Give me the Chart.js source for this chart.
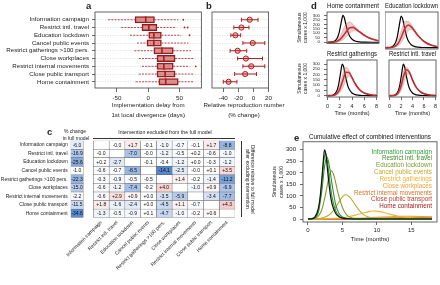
<!DOCTYPE html>
<html lang="en">
<head>
<meta charset="UTF-8">
<title>Intervention effects</title>
<script src="https://cdn.jsdelivr.net/npm/chart.js"></script>
<style>
  html, body { margin: 0; padding: 0; background: #fff; }
  #fig { position: relative; width: 440px; height: 285px; overflow: hidden; font-family: 'Liberation Sans', Arial, sans-serif; color: #222; }
  #fig canvas { position: absolute; }
  .lbl { position: absolute; font-weight: bold; font-size: 9.5px; line-height: 1; }
  .txt { position: absolute; font-size: 5px; line-height: 1; white-space: nowrap; text-align: center; }
</style>
</head>
<body>
<div id="fig">
  <canvas id="chartA" width="207" height="120" style="left:0;top:0"></canvas>
  <canvas id="chartB" width="68" height="120" style="left:207px;top:0"></canvas>
  <canvas id="chartC" width="240" height="157" style="left:0;top:128px"></canvas>
  <canvas id="chartD1" width="89" height="50" style="left:292px;top:0"></canvas>
  <canvas id="chartD2" width="55" height="50" style="left:385px;top:0"></canvas>
  <canvas id="chartD3" width="89" height="69" style="left:292px;top:48px"></canvas>
  <canvas id="chartD4" width="55" height="69" style="left:385px;top:48px"></canvas>
  <canvas id="chartE" width="170" height="115" style="left:270px;top:128px"></canvas>

  <div class="lbl" style="left:86px;top:1px">a</div>
  <div class="lbl" style="left:206px;top:1px">b</div>
  <div class="lbl" style="left:47px;top:127px">c</div>
  <div class="lbl" style="left:311px;top:1px">d</div>
  <div class="lbl" style="left:294px;top:133px">e</div>

  <div class="txt" style="left:194px;top:102.3px;width:100px;font-size:6.2px">Relative reproduction number</div>
  <div class="txt" style="left:194px;top:112px;width:100px;font-size:6.2px">(% change)</div>

  <div class="txt" style="left:55px;top:129px;width:40px">% change</div>
  <div class="txt" style="left:51px;top:135.5px;width:50px">in full model</div>
  <div class="txt" style="left:105px;top:129.5px;width:120px;font-size:5.2px">Intervention excluded from the full model</div>
  <div style="position:absolute;left:93px;top:138px;width:142px;border-top:0.8px solid #333"></div>
  <div class="txt" style="left:241px;top:141px;height:76px;writing-mode:vertical-rl;border-left:0.8px solid #333;padding-left:2px;line-height:5.5px;white-space:normal">Difference relative to full model<br>after excluding intervention</div>
</div>

<script>
Chart.defaults.font.family = "'Liberation Sans', Arial, sans-serif"
Chart.defaults.color = '#222'
Chart.defaults.animation = false
Chart.defaults.responsive = false
Chart.defaults.devicePixelRatio = 1
Chart.defaults.plugins.legend.display = false
Chart.defaults.plugins.tooltip.enabled = false

const interventions = ['Information campaign', 'Restrict intl. travel', 'Education lockdown', 'Cancel public events',
  'Restrict gatherings >100 pers.', 'Close workplaces', 'Restrict internal movements', 'Close public transport', 'Home containment']

// a: implementation delay from 1st local divergence (days)
const delayLo = [-64, -43, -29, -18, -22, -15, -10, -15, -20]
const delayQ1 = [-21, -10, 0, -2, 9, 14, 14, 14, 17]
const delayMed = [-4, 1, 9, 9, 22, 25, 25, 27, 28]
const delayQ3 = [10, 14, 21, 21, 40, 43, 40, 43, 48]
const delayHi = [48, 45, 53, 64, 68, 74, 66, 74, 73]
const outRow = [0, 1, 1, 2, 6]
const outVal = [56, 58, 63, 66, 76]

// b: relative reproduction number (% change)
const rEst = [-5, -16, -24, -1, -21, -10, -3, -11, -33]
const rLo = [-16, -26, -30, -14, -31, -21, -14, -25, -40]
const rHi = [6, -6, -17, 15, -9, 12, 15, 4, -22]

// c: % change in full model, and difference after excluding an intervention
const fullModel = [-6.0, -16.9, -25.6, -1.0, -22.3, -15.0, -2.2, -11.5, -34.6]
const excluded = [
  [null, -0.0, 1.7, -0.1, -1.0, -0.7, -0.1, 1.7, -8.8],
  [-0.0, null, -7.0, -0.0, -1.2, -0.5, 0.2, -0.6, -1.0],
  [0.2, -2.7, null, -0.1, -0.4, -1.2, 0.0, -0.3, -1.2],
  [-0.6, -0.7, -8.5, null, -14.1, -2.5, -0.0, 0.1, 3.5],
  [-0.3, -0.9, -0.5, -0.5, null, 1.4, -0.2, -1.4, -11.2],
  [-0.6, -1.2, -7.4, -0.2, 4.0, null, -1.0, 0.9, -6.9],
  [-0.6, 2.9, 0.9, 0.0, -3.5, -5.9, null, -3.4, -7.7],
  [1.8, -1.6, -2.4, 0.0, -4.5, 1.1, -0.7, null, 4.3],
  [-1.3, -0.5, -0.9, 0.1, -4.7, -1.0, -0.2, 0.6, null]
]

// d: simultaneous cases x 1,000 by month
const dTicks = [0, 2, 4, 6, 8]
const baseT = [0, 0.5, 1, 1.5, 1.75, 2, 2.25, 2.4, 2.6, 2.8, 3, 3.25, 3.5, 4, 4.5, 5, 6, 7, 8, 18]
const baseV = [0, 1, 8, 45, 90, 170, 260, 300, 280, 225, 165, 105, 65, 25, 10, 4, 1, 0, 0, 0]
const dT = [0, 0.5, 1, 1.5, 2, 2.5, 3, 3.5, 4, 4.5, 5, 5.5, 6, 7, 8]
const homeMid = [0, 0, 3, 12, 35, 75, 125, 163, 166, 145, 118, 92, 68, 35, 16]
const homeHi = [0, 1, 6, 25, 70, 150, 210, 225, 200, 160, 125, 95, 70, 37, 18]
const homeLo = [0, 0, 1, 4, 12, 32, 65, 100, 125, 128, 112, 88, 65, 32, 14]
const eduMid = [0, 0, 3, 15, 45, 110, 185, 215, 195, 155, 115, 82, 56, 24, 9]
const eduHi = [0, 1, 6, 28, 85, 175, 250, 250, 215, 165, 120, 85, 58, 25, 10]
const eduLo = [0, 0, 1, 6, 20, 55, 110, 160, 175, 150, 112, 80, 54, 23, 8]
const gathMid = [0, 0, 3, 18, 62, 145, 222, 220, 170, 115, 72, 42, 24, 8, 2]
const gathHi = [0, 1, 6, 32, 100, 205, 270, 240, 175, 118, 74, 43, 25, 8, 3]
const gathLo = [0, 0, 1, 8, 28, 75, 145, 185, 160, 110, 68, 40, 22, 7, 2]
const travMid = [0, 0, 4, 25, 88, 195, 245, 215, 150, 92, 55, 32, 18, 6, 1]
const travHi = [0, 1, 7, 38, 125, 240, 270, 225, 155, 95, 57, 33, 19, 6, 2]
const travLo = [0, 0, 2, 12, 45, 120, 200, 205, 150, 90, 53, 30, 17, 5, 1]

// e: cumulative effect of combined interventions
const eTicks = [0, 5, 10, 15]
const infoT = [0, 0.5, 1, 1.5, 2, 2.3, 2.55, 2.8, 3.1, 3.5, 4, 4.5, 5, 6, 18]
const infoV = [0, 1, 6, 35, 150, 250, 285, 255, 180, 95, 38, 14, 5, 1, 0]
const travT = [0, 0.5, 1, 1.5, 2, 2.4, 2.75, 3.1, 3.5, 4, 4.5, 5, 6, 18]
const travV = [0, 1, 5, 28, 120, 225, 270, 230, 150, 65, 25, 9, 1, 0]
const eduT = [0, 1, 1.5, 2, 2.5, 3, 3.4, 3.8, 4.3, 5, 5.5, 6, 7, 18]
const eduV = [0, 3, 12, 40, 100, 175, 210, 185, 120, 50, 22, 9, 2, 0]
const cancelT = [0, 1, 2, 3, 3.5, 4, 4.5, 5, 5.5, 6, 6.5, 7, 7.5, 8, 9, 10, 12, 18]
const cancelV = [0, 0.5, 4, 16, 30, 50, 74, 96, 105, 97, 78, 55, 35, 20, 6, 2, 0, 0]
const gathT = [0, 2, 4, 5, 6, 7, 8, 9, 9.5, 10, 11, 12, 13, 14, 16, 18]
const gathV = [0, 0.5, 3, 6, 11, 18, 26, 33, 35, 34, 28, 20, 13, 8, 3, 1]
const workT = [0, 4, 6, 8, 10, 12, 13.5, 15, 16.5, 18]
const workV = [0, 1, 2, 4, 7, 10, 12, 12, 11, 9]
const internalT = [0, 6, 9, 12, 15, 18]
const internalV = [0, 1, 3, 5, 7, 8]
const transportT = [0, 8, 12, 18]
const transportV = [0, 1, 2, 4]
const homeT = [0, 8, 12, 18]
const homeV = [0, 0.5, 1, 2]

const pts = (t, v) => t.map((x, i) => ({ x, y: v[i] }))
const tickList = arr => s => { s.ticks = arr.map(v => ({ value: v })) }
const rowIdx = interventions.map((_, i) => i)

// gaps (null points) split one dataset into separate segments
function segments(lo, hi) {
  const out = []
  lo.forEach((v, i) => out.push({ x: v, y: i }, { x: hi[i], y: i }, { x: null, y: null }))
  return out
}

const frame = {
  id: 'frame',
  afterDatasetsDraw(chart) {
    const { ctx, chartArea: a } = chart
    ctx.save()
    ctx.strokeStyle = '#555'
    ctx.lineWidth = 0.9
    ctx.strokeRect(a.left, a.top, a.width, a.height)
    ctx.restore()
  }
}

const cellText = {
  id: 'cellText',
  afterDatasetsDraw(chart) {
    const ctx = chart.ctx
    ctx.save()
    ctx.font = "5px 'Liberation Sans', Arial, sans-serif"
    ctx.textAlign = 'center'
    ctx.textBaseline = 'middle'
    ctx.fillStyle = '#111'
    chart.data.datasets.forEach((ds, di) => {
      chart.getDatasetMeta(di).data.forEach((el, i) => {
        const t = ds.texts[i]
        if (t) {
          const p = el.getCenterPoint()
          ctx.fillText(t, p.x, p.y + 0.3)
        }
      })
    })
    ctx.restore()
  }
}

const textLegend = {
  id: 'textLegend',
  afterDatasetsDraw(chart) {
    const { ctx, chartArea: a } = chart
    ctx.save()
    ctx.font = "6.3px 'Liberation Sans', Arial, sans-serif"
    ctx.textAlign = 'right'
    ctx.textBaseline = 'middle'
    let y = a.top + 10
    chart.data.datasets.forEach(ds => {
      if (!ds.label) return
      ctx.fillStyle = ds.borderColor
      ctx.fillText(ds.label, a.right - 5, y)
      y += 6.85
    })
    ctx.restore()
  }
}

const small = size => ({ size })
const rowAxis = (min, max, width, labels) => ({
  type: 'linear', reverse: true, min, max, offset: false,
  afterBuildTicks: tickList(rowIdx),
  ticks: { display: labels, font: small(6.2), padding: 3, autoSkip: false, callback: v => interventions[v] },
  grid: { color: '#cfcfcf', lineWidth: 0.6, drawTicks: labels, tickLength: 3, tickColor: '#444', tickWidth: 0.8, offset: false },
  border: { display: false, dash: [1, 1.5] },
  afterFit: s => { s.width = width }
})

/* ============= a ============= */
new Chart(document.getElementById('chartA'), {
  type: 'scatter',
  data: {
    datasets: [
      {
        data: segments(delayLo, delayQ1).concat(segments(delayQ3, delayHi)),
        showLine: true, borderColor: '#a31d1d', borderWidth: 0.8, borderDash: [2, 1.2], pointRadius: 0
      },
      {
        type: 'bar', indexAxis: 'y',
        data: delayQ1.map((v, i) => ({ x: [v, delayQ3[i]], y: i })),
        backgroundColor: 'rgba(190,55,55,0.55)', borderColor: '#8e1414', borderWidth: 0.9,
        borderSkipped: false, barThickness: 6.5
      },
      {
        data: delayMed.map((v, i) => ({ x: v, y: i })),
        pointStyle: 'line', rotation: 90, pointRadius: 3.2, borderWidth: 1.6, borderColor: '#6e0a0a'
      },
      {
        data: outVal.map((v, i) => ({ x: v, y: outRow[i] })),
        pointRadius: 0.9, backgroundColor: '#b22222', borderWidth: 0
      }
    ]
  },
  options: {
    layout: { padding: { top: 12, right: 3, left: 0, bottom: 0 } },
    scales: {
      x: {
        type: 'linear', min: -85, max: 85,
        afterBuildTicks: tickList([-50, 0, 50]),
        ticks: { font: small(6.2), padding: 3, maxRotation: 0 },
        grid: { drawOnChartArea: false, tickLength: 4, tickColor: '#444', tickWidth: 0.8 },
        border: { display: false },
        title: { display: true, text: ['Implementation delay from', '1st local divergence (days)'], font: { size: 6.2, lineHeight: 1.55 }, padding: 0 },
        afterFit: s => { s.height = 32 }
      },
      y: rowAxis(-1, 8.8, 95, true)
    }
  },
  plugins: [frame]
})

/* ============= b ============= */
new Chart(document.getElementById('chartB'), {
  type: 'scatter',
  data: {
    datasets: [
      {
        data: segments(rLo, rHi),
        showLine: true, borderColor: '#b01e1e', borderWidth: 1.1, pointRadius: 0
      },
      {
        data: rLo.map((v, i) => ({ x: v, y: i })).concat(rHi.map((v, i) => ({ x: v, y: i }))),
        pointStyle: 'line', rotation: 90, pointRadius: 2, borderWidth: 1, borderColor: '#b01e1e'
      },
      {
        data: rEst.map((v, i) => ({ x: v, y: i })),
        pointRadius: 2.6, backgroundColor: 'rgba(236,170,170,0.85)', borderColor: '#b01e1e', borderWidth: 1
      }
    ]
  },
  options: {
    layout: { padding: { top: 12, right: 4, left: 0, bottom: 0 } },
    scales: {
      x: {
        type: 'linear', min: -55, max: 20,
        afterBuildTicks: tickList([-40, -20, 0, 20]),
        ticks: { font: small(6.2), padding: 3, maxRotation: 0 },
        grid: { drawOnChartArea: false, tickLength: 4, tickColor: '#444', tickWidth: 0.8 },
        border: { display: false },
        afterFit: s => { s.height = 32 }
      },
      y: rowAxis(-1, 8.8, 4, false)
    }
  },
  plugins: [frame]
})

/* ============= c ============= */
function heatColor(v, span) {
  if (v === null) return '#ffffff'
  const t = Math.min(1, Math.abs(v) / span)
  const c = v < 0 ? [72, 126, 204] : [222, 82, 82]
  return 'rgb(' + c.map(k => Math.round(255 + (k - 255) * t)).join(',') + ')'
}
function signed(v) {
  if (v === null) return ''
  const sign = v > 0 || Object.is(v, 0) ? '+' : '-'
  return sign + Math.abs(v).toFixed(1)
}
const cellStyle = {
  type: 'bar', grouped: false, barPercentage: 1, categoryPercentage: 1,
  borderColor: '#666', borderWidth: 0.5, borderSkipped: false
}
const heatSets = [{
  ...cellStyle,
  data: fullModel.map((v, i) => ({ x: [-1.44, -0.64], y: i })),
  backgroundColor: fullModel.map(v => heatColor(v, 38)),
  texts: fullModel.map(v => v.toFixed(1))
}]
interventions.forEach((_, j) => {
  heatSets.push({
    ...cellStyle,
    data: excluded.map((row, i) => ({ x: [j, j + 1], y: i })),
    backgroundColor: excluded.map(row => heatColor(row[j], 15)),
    texts: excluded.map(row => signed(row[j]))
  })
})

new Chart(document.getElementById('chartC'), {
  type: 'bar',
  data: { datasets: heatSets },
  options: {
    indexAxis: 'y',
    layout: { padding: { top: 12.7, right: 5, left: 0, bottom: 0 } },
    scales: {
      x: {
        type: 'linear', min: -1.44, max: 9, offset: false,
        afterBuildTicks: tickList(rowIdx.map(j => j + 0.5)),
        ticks: { font: small(5), autoSkip: false, minRotation: 45, maxRotation: 45, padding: 2, callback: (v, i) => interventions[i] },
        grid: { display: false, drawTicks: false },
        border: { display: false },
        afterFit: s => { s.height = 67.4 }
      },
      y: {
        type: 'linear', reverse: true, min: -0.5, max: 8.5, offset: false,
        afterBuildTicks: tickList(rowIdx),
        ticks: { font: small(5), autoSkip: false, padding: 3, callback: v => interventions[v] },
        grid: { display: false, drawTicks: false, offset: false },
        border: { display: false },
        afterFit: s => { s.width = 70.7 }
      }
    }
  },
  plugins: [cellText]
})

/* ============= d ============= */
function epiChart(id, title, mid, hi, lo, withY, withX) {
  return new Chart(document.getElementById(id), {
    type: 'line',
    data: {
      datasets: [
        { data: pts(dT, hi), borderColor: 'rgba(200,70,70,0.35)', backgroundColor: 'rgba(214,110,110,0.35)', borderWidth: 0.8, fill: '+1' },
        { data: pts(dT, lo), borderColor: 'rgba(200,70,70,0.35)', borderWidth: 0.8, fill: false },
        { data: pts(dT, mid), borderColor: '#b01a1a', borderWidth: 1.6, fill: false },
        { data: pts(baseT, baseV), borderColor: '#000', borderWidth: 1.2, fill: false }
      ]
    },
    options: {
      layout: { padding: { top: 0, right: 2, bottom: withX ? 0 : 1, left: 0 } },
      elements: { point: { radius: 0 }, line: { cubicInterpolationMode: 'monotone' } },
      plugins: {
        title: { display: true, text: title, fullSize: false, color: '#111', font: { size: 6.5, weight: 'normal' }, padding: { top: 2, bottom: 2.2 } }
      },
      scales: {
        x: {
          type: 'linear', min: -0.1, max: 8.1, display: withX,
          afterBuildTicks: tickList(dTicks),
          ticks: { font: small(5.5), padding: 3, maxRotation: 0 },
          grid: { drawOnChartArea: false, tickLength: 3, tickColor: '#444', tickWidth: 0.8 },
          border: { display: false },
          title: { display: true, text: 'Time (months)', font: small(5.5), padding: 0 },
          afterFit: s => { s.height = withX ? 20 : 0 }
        },
        y: {
          type: 'linear', min: -13, max: 338, display: withY,
          afterBuildTicks: tickList([0, 50, 100, 150, 200, 250, 300]),
          ticks: { font: small(4.3), padding: 4, autoSkip: false },
          grid: { drawOnChartArea: false, tickLength: 3, tickColor: '#444', tickWidth: 0.8 },
          border: { display: false },
          title: { display: true, text: ['Simultaneous', 'cases x 1,000'], font: small(5), padding: { top: 5, bottom: 0 } },
          afterFit: s => { s.width = withY ? 35 : 0 }
        }
      }
    },
    plugins: [frame]
  })
}
epiChart('chartD1', 'Home containment', homeMid, homeHi, homeLo, true, false)
epiChart('chartD2', 'Education lockdown', eduMid, eduHi, eduLo, false, false)
epiChart('chartD3', 'Restrict gatherings', gathMid, gathHi, gathLo, true, true)
epiChart('chartD4', 'Restrict intl. travel', travMid, travHi, travLo, false, true)

/* ============= e ============= */
const eLine = (label, t, v, color) => ({ label, data: pts(t, v), borderColor: color, borderWidth: 1.1, fill: false })
new Chart(document.getElementById('chartE'), {
  type: 'line',
  data: {
    datasets: [
      { data: pts(baseT, baseV), borderColor: '#111', borderWidth: 1.2, fill: false },
      eLine('Information campaign', infoT, infoV, '#2f9e37'),
      eLine('Restrict intl. travel', travT, travV, '#3f8a2b'),
      eLine('Education lockdown', eduT, eduV, '#7f9c2e'),
      eLine('Cancel public events', cancelT, cancelV, '#c4a72e'),
      eLine('Restrict gatherings', gathT, gathV, '#f0b232'),
      eLine('Close workplaces', workT, workV, '#eea032'),
      eLine('Restrict internal movements', internalT, internalV, '#d6742a'),
      eLine('Close public transport', transportT, transportV, '#b6402a'),
      eLine('Home containment', homeT, homeV, '#a01a1a')
    ]
  },
  options: {
    layout: { padding: { top: 0, right: 3, left: 0, bottom: 0 } },
    elements: { point: { radius: 0 }, line: { cubicInterpolationMode: 'monotone' } },
    plugins: {
      title: { display: true, text: 'Cumulative effect of combined interventions', fullSize: false, color: '#111', font: { size: 6.3, weight: 'normal' }, padding: { top: 5.4, bottom: 0.8 } }
    },
    scales: {
      x: {
        type: 'linear', min: -0.72, max: 18.72,
        afterBuildTicks: tickList(eTicks),
        ticks: { font: small(6), padding: 1.5, maxRotation: 0 },
        grid: { drawOnChartArea: false, tickLength: 3, tickColor: '#444', tickWidth: 0.8 },
        border: { display: false },
        title: { display: true, text: 'Time (months)', font: small(6), padding: 0 },
        afterFit: s => { s.height = 21 }
      },
      y: {
        type: 'linear', min: -13, max: 335,
        afterBuildTicks: tickList([0, 50, 100, 150, 200, 250, 300]),
        ticks: { font: small(6), padding: 4, autoSkip: false },
        grid: { drawOnChartArea: false, tickLength: 3, tickColor: '#444', tickWidth: 0.8 },
        border: { display: false },
        title: { display: true, text: ['Simultaneous', 'cases x 1,000'], font: small(5.2), padding: { top: 1.9, bottom: 0 } },
        afterFit: s => { s.width = 33 }
      }
    }
  },
  plugins: [frame, textLegend]
})
</script>
</body>
</html>
